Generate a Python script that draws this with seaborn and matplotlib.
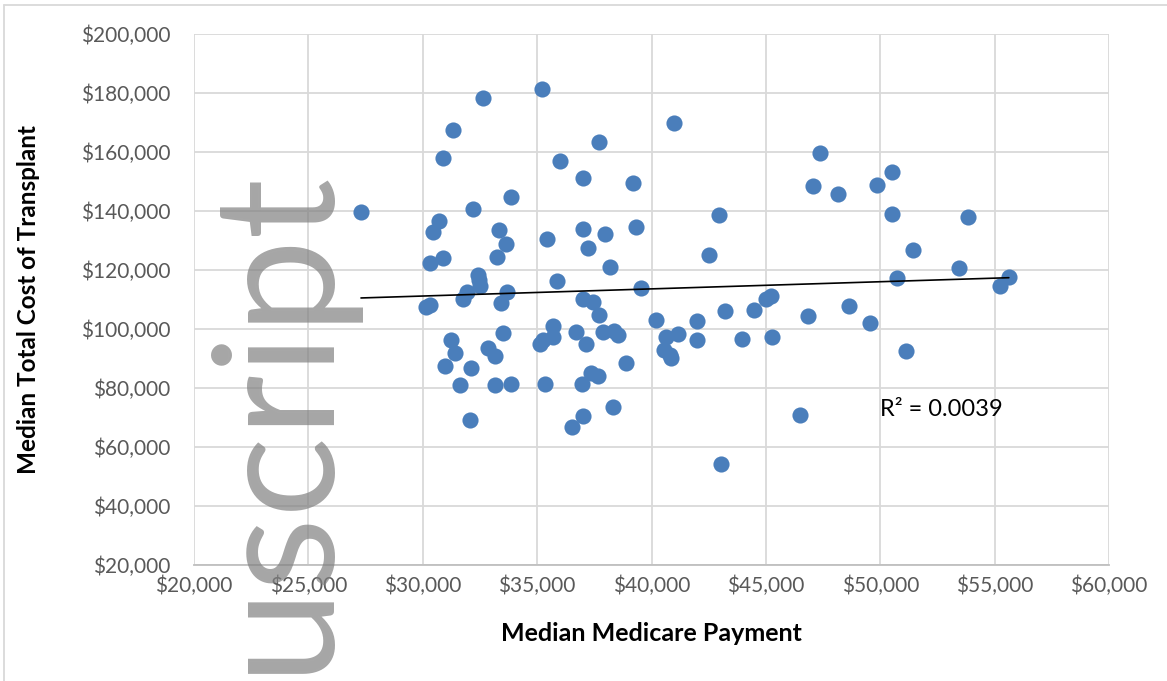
import matplotlib
matplotlib.use("Agg")
import matplotlib.pyplot as plt
from matplotlib.lines import Line2D
from matplotlib.ticker import StrMethodFormatter, MultipleLocator
import numpy as np
import pandas as pd
import seaborn as sns

# median medicare payment (dollars) and median total cost of transplant (dollars)
medicare_payment = [
    27300, 32620, 31340, 30870, 33860, 32200, 30710, 30450, 33320, 33630,
    30320, 30870, 33230, 32430, 32470, 32510, 31920, 31780, 33670, 33420,
    30140, 30300, 33500, 31220, 31410, 30990, 32110, 32840, 33160, 31630,
    33180, 33860, 32060, 35230, 41000, 37710, 36020, 37010, 39200, 42960,
    35440, 37010, 37970, 39330, 37210, 42520, 38190, 35850, 39560, 37020,
    37460, 37720, 40210, 41980, 43220, 35710, 35710, 35130, 35270, 36700,
    37130, 37860, 38340, 38530, 38870, 40640, 41180, 41980, 40560, 40800,
    40860, 37350, 37650, 36980, 35330, 38310, 37020, 36540, 43050, 47370,
    47040, 48160, 49850, 50530, 50530, 44460, 45010, 45220, 43970, 45280,
    46820, 48620, 49570, 50750, 46500, 53830, 51450, 53450, 55620, 55240,
    51120,
]
transplant_cost = [
    139600, 178300, 167600, 158100, 144700, 140700, 136700, 133000, 133600, 128700,
    122400, 124100, 124400, 118400, 116500, 114500, 112500, 110300, 112500, 108800,
    107500, 108000, 98600, 96400, 91700, 87600, 86900, 93600, 90700, 80900,
    80900, 81200, 69000, 181400, 169800, 163400, 156800, 151300, 149400, 138500,
    130400, 134000, 132300, 134600, 127300, 125000, 121000, 116300, 114000, 110300,
    109200, 104600, 102900, 102600, 106000, 100900, 97300, 95000, 96200, 99000,
    95000, 99000, 99200, 98100, 88600, 97300, 98400, 96200, 93000, 91300,
    90200, 85200, 84000, 81300, 81500, 73600, 70500, 66800, 54400, 159800,
    148500, 145800, 148900, 153200, 139100, 106300, 110300, 111100, 96500, 97300,
    104400, 107700, 102000, 117300, 71000, 137800, 126800, 120700, 117500, 114500,
    92400,
]
r_squared_label = "R² = 0.0039"

data = pd.DataFrame({"payment": medicare_payment, "cost": transplant_cost})

sns.set_style("white")
plt.rcParams['font.family'] = ['Lato', 'DejaVu Sans']

fig = plt.figure(figsize=(11.67, 6.81), dpi=100)
ax = fig.add_axes([194 / 1167, 1 - 565 / 681, (1109 - 194) / 1167, (565 - 34) / 681])

# scatter with linear trend line
sns.regplot(data=data, x="payment", y="cost", ax=ax, ci=None,
            scatter_kws={"s": 135, "color": "#4A7EBB", "linewidths": 0,
                         "alpha": 1, "zorder": 3},
            line_kws={"color": "black", "linewidth": 1.2, "zorder": 4})

ax.set_xlim(20000, 60000)
ax.set_ylim(20000, 200000)
ax.xaxis.set_major_locator(MultipleLocator(5000))
ax.yaxis.set_major_locator(MultipleLocator(20000))
ax.xaxis.set_major_formatter(StrMethodFormatter('${x:,.0f}'))
ax.yaxis.set_major_formatter(StrMethodFormatter('${x:,.0f}'))
ax.grid(True, color="#d9d9d9", linewidth=1.3, zorder=0)
ax.set_axisbelow(True)
for side in ["left", "top", "right"]:
    ax.spines[side].set_visible(False)
ax.spines["bottom"].set_color("#bfbfbf")
ax.spines["bottom"].set_linewidth(1.3)
ax.tick_params(axis="both", length=0, labelsize=15, labelcolor="#595959")
ax.tick_params(axis="y", pad=17)
ax.tick_params(axis="x", pad=8)

ax.set_xlabel("Median Medicare Payment", fontsize=18, fontweight="bold",
              color="black")
ax.set_ylabel("Median Total Cost of Transplant", fontsize=17.5,
              fontweight="bold", color="black")
ax.xaxis.set_label_coords(0.5, -0.108)
ax.yaxis.set_label_coords(-0.168, 0.5)

ax.text(50000, 72800, r_squared_label, fontsize=17, color="black",
        va="center", ha="left", zorder=5)

# chart area border (left and top)
fig.add_artist(Line2D([4 / 1167, 4 / 1167], [0, 1 - 5 / 681],
                      color="#d9d9d9", linewidth=1.3))
fig.add_artist(Line2D([4 / 1167, 1], [1 - 5 / 681, 1 - 5 / 681],
                      color="#d9d9d9", linewidth=1.3))

# watermark
fig.text(324 / 1167, 1 - 673 / 681, "uscript", fontsize=122, rotation=90,
         rotation_mode="anchor", ha="left", va="baseline",
         color="#808080", alpha=0.7, zorder=10)

fig.savefig("out.png", dpi=100)
